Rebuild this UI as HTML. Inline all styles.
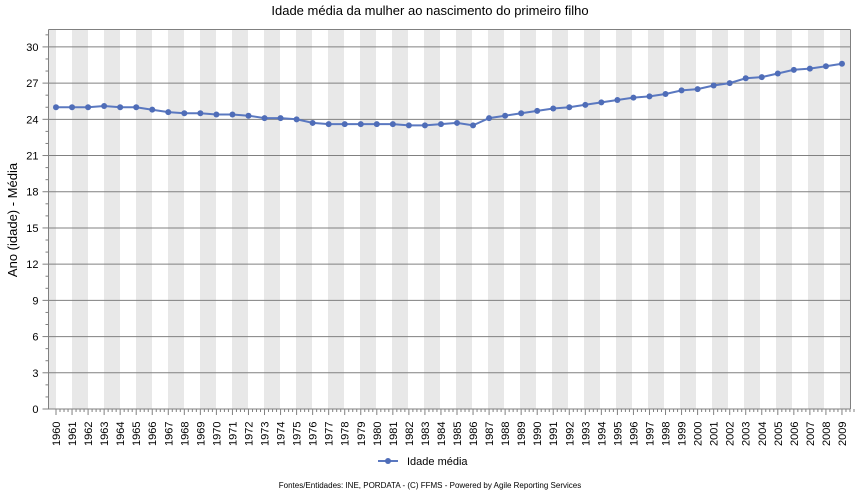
<!DOCTYPE html>
<html><head><meta charset="utf-8"><style>
html,body{margin:0;padding:0;background:#fff;}
svg{display:block;font-family:"Liberation Sans",sans-serif;}
</style></head><body>
<svg id="c" width="857" height="490" xmlns="http://www.w3.org/2000/svg">
<text x="430" y="15" font-size="13" text-anchor="middle" fill="#000">Idade média da mulher ao nascimento do primeiro filho</text>
<text transform="translate(17,220) rotate(-90)" font-size="13" text-anchor="middle" fill="#000">Ano (idade) - Média</text>
<g id="bands"></g><g id="grid"></g><g id="ser"></g><g id="xl"></g>
<line x1="378" y1="461" x2="398" y2="461" stroke="#5a78c0" stroke-width="2"/>
<circle cx="388" cy="461" r="3" fill="#4f6db8"/>
<text x="407" y="465" font-size="11" fill="#000">Idade média</text>
<text x="430" y="488" font-size="8" text-anchor="middle" fill="#000">Fontes/Entidades: INE, PORDATA - (C) FFMS - Powered by Agile Reporting Services</text>
</svg>
<script>
var ns="http://www.w3.org/2000/svg";
function el(p,t,a,txt){var e=document.createElementNS(ns,t);for(var k in a)e.setAttribute(k,a[k]);if(txt!==undefined)e.textContent=txt;document.getElementById(p).appendChild(e);return e;}
var L=48.5,R=850.5,T=29.5,B=409,S=16.04,U=12.07;
function X(i){return 56+S*i;}function Y(v){return B-v*U;}
for(var k=0;k<26;k++){var a=40+32*k,b=a+16;a=Math.max(a,L);b=Math.min(b,R);if(b>a)el("bands","rect",{x:a,y:T,width:b-a,height:B-T,fill:"#e8e8e8"});}
for(var v=0;v<=30;v+=3){var y=Y(v);el("grid","line",{x1:L,y1:y,x2:R,y2:y,stroke:"#808080","stroke-width":1});el("grid","line",{x1:L-6,y1:y,x2:L,y2:y,stroke:"#808080"});el("grid","text",{x:L-10,y:y+4,"font-size":11,"text-anchor":"end",fill:"#000"},v);}
for(var v=1;v<=31;v++){if(v%3)el("grid","line",{x1:L-3,y1:Y(v),x2:L,y2:Y(v),stroke:"#808080"});}
el("grid","line",{x1:L,y1:T,x2:R,y2:T,stroke:"#808080"});
el("grid","line",{x1:R,y1:T,x2:R,y2:B,stroke:"#808080"});
el("grid","line",{x1:L,y1:T,x2:L,y2:B,stroke:"#808080"});
el("grid","line",{x1:L-4,y1:B,x2:R,y2:B,stroke:"#808080"});
for(var i=0;i<50;i++){var x=X(i);el("grid","line",{x1:x,y1:B,x2:x,y2:B+6,stroke:"#808080"});for(var j=1;j<4;j++)el("grid","line",{x1:x+S*j/4,y1:B,x2:x+S*j/4,y2:B+3,stroke:"#808080"});
el("xl","text",{transform:"translate("+(x+4)+",446) rotate(-90)","font-size":11,fill:"#000"},1960+i);}
var d=[25.0,25.0,25.0,25.1,25.0,25.0,24.8,24.6,24.5,24.5,24.4,24.4,24.3,24.1,24.1,24.0,23.7,23.6,23.6,23.6,23.6,23.6,23.5,23.5,23.6,23.7,23.5,24.1,24.3,24.5,24.7,24.9,25.0,25.2,25.4,25.6,25.8,25.9,26.1,26.4,26.5,26.8,27.0,27.4,27.5,27.8,28.1,28.2,28.4,28.6];
var p=d.map(function(v,i){return X(i).toFixed(1)+","+Y(v).toFixed(1);}).join(" ");
el("ser","polyline",{points:p,fill:"none",stroke:"#5a78c0","stroke-width":2});
d.forEach(function(v,i){el("ser","circle",{cx:X(i),cy:Y(v),r:3,fill:"#4f6db8"});});
</script>
</body></html>
